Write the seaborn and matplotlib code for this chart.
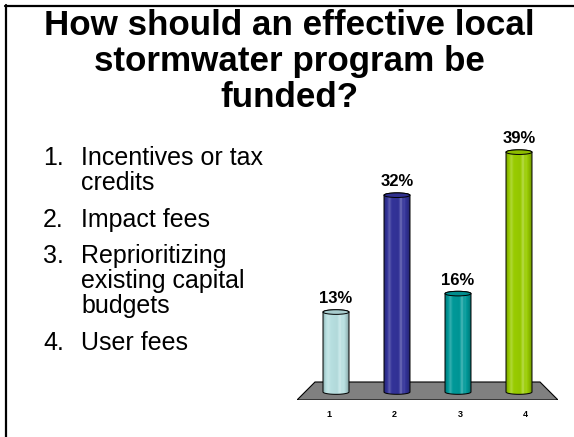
import numpy as np
import matplotlib
matplotlib.use("Agg")
import matplotlib.pyplot as plt
from matplotlib.patches import Ellipse, PathPatch, Polygon
from matplotlib.path import Path
from matplotlib.lines import Line2D
from matplotlib.colors import to_rgb
import seaborn as sns

# ---- data ----
title_lines = ["How should an effective local", "stormwater program be", "funded?"]
option_lines = [
    ["Incentives or tax", "credits"],
    ["Impact fees"],
    ["Reprioritizing", "existing capital", "budgets"],
    ["User fees"],
]
categories = ["1", "2", "3", "4"]
shares = [13, 32, 16, 39]
bar_colors = ["#B7DFE0", "#333399", "#009999", "#99CC00"]

sns.set_style("white")
plt.rcParams["font.family"] = ["Liberation Sans", "DejaVu Sans"]
plt.rcParams["text.color"] = "black"
plt.rcParams["xtick.color"] = "black"

W, H = 574, 437
fig = plt.figure(figsize=(W / 100, H / 100), dpi=100)
fig.patch.set_facecolor("white")


def fx(px):
    return px / W


def fy(py):
    return 1 - py / H


# slide frame (top and left rules)
fig.add_artist(Line2D([fx(5), fx(574)], [fy(6), fy(6)], color="black", lw=1.6))
fig.add_artist(Line2D([fx(6), fx(6)], [fy(5), fy(437)], color="black", lw=1.6))

# title
for i, line in enumerate(title_lines):
    fig.text(fx(289), fy(35 + 36 * i), line, ha="center", va="baseline",
             fontsize=25.2, fontweight="bold", color="black")

# numbered list of options
y = 165
for n, lines in enumerate(option_lines, start=1):
    fig.text(fx(43), fy(y), f"{n}.", ha="left", va="baseline", fontsize=18,
             color="black")
    for ln in lines:
        fig.text(fx(81), fy(y), ln, ha="left", va="baseline", fontsize=18,
                 color="black")
        y += 25
    y += 11.5

# ---- chart ----
px_per_unit_x = 61.0
px_per_pct = 6.15
left_px, right_px, top_px, bottom_px = 297, 558, 130, 400
base_px, first_center_px = 392, 336

ax = fig.add_axes([fx(left_px), fy(bottom_px), (right_px - left_px) / W,
                   (bottom_px - top_px) / H])
ax.set_facecolor("none")

bar_w = 26 / px_per_unit_x
sns.barplot(x=categories, y=shares, hue=categories, palette=bar_colors,
            width=bar_w, legend=False, saturation=1, ax=ax,
            edgecolor="none", linewidth=0, zorder=3)

ax.set_xlim((left_px - first_center_px) / px_per_unit_x,
            (right_px - first_center_px) / px_per_unit_x)
ax.set_ylim((base_px - bottom_px) / px_per_pct, (base_px - top_px) / px_per_pct)

# floor slab
front_y = (base_px - 400) / px_per_pct
back_y = (base_px - 382) / px_per_pct
cx0 = lambda p: (p - first_center_px) / px_per_unit_x
floor = Polygon([(cx0(297), front_y), (cx0(558), front_y),
                 (cx0(540), back_y), (cx0(315), back_y)], closed=True,
                facecolor="#808080", edgecolor="black", lw=0.8, zorder=1)
ax.add_patch(floor)

# cylinder shading profile across the bar width
stops_t = [0.0, 0.08, 0.2, 0.3, 0.55, 0.66, 0.72, 0.8, 0.92, 1.0]
stops_f = [0.78, 0.95, 1.10, 1.0, 0.97, 1.14, 1.02, 1.04, 0.88, 0.74]
tt = np.linspace(0, 1, 60)
prof = np.interp(tt, stops_t, stops_f)


def shade(rgb, f):
    rgb = np.array(rgb)
    if f >= 1:
        return rgb + (1 - rgb) * (f - 1) * 2.2
    return rgb * f


ell_h = 0.75  # ellipse height in data units
for patch, col, val in zip(ax.patches, bar_colors, shares):
    x0, w, h = patch.get_x(), patch.get_width(), patch.get_height()
    cx = x0 + w / 2
    rgb = to_rgb(col)

    # outline: left side, bottom half ellipse, right side, top rim
    th_b = np.linspace(np.pi, 2 * np.pi, 40)
    th_t = np.linspace(0, np.pi, 40)
    verts = [(x0, h), (x0, 0)]
    verts += [(cx + w / 2 * np.cos(t), ell_h / 2 * np.sin(t)) for t in th_b]
    verts += [(x0 + w, h)]
    verts += [(cx + w / 2 * np.cos(t), h + ell_h / 2 * np.sin(t)) for t in th_t]
    verts += [(x0, h)]
    codes = [Path.MOVETO] + [Path.LINETO] * (len(verts) - 2) + [Path.CLOSEPOLY]
    body = Path(verts, codes)

    clip = PathPatch(body, facecolor="none", edgecolor="none", zorder=4)
    ax.add_patch(clip)
    img = np.array([[shade(rgb, f) for f in prof]])
    img = np.clip(img, 0, 1)
    im = ax.imshow(img, extent=(x0, x0 + w, -ell_h / 2, h + ell_h / 2),
                   aspect="auto", interpolation="bilinear", zorder=4)
    im.set_clip_path(clip)
    ax.add_patch(PathPatch(body, facecolor="none", edgecolor="black",
                           lw=0.7, zorder=5))

    # top cap
    cap_col = np.clip(np.array(rgb) * 0.92, 0, 1)
    ax.add_patch(Ellipse((cx, h), w, ell_h, facecolor=cap_col,
                         edgecolor="black", lw=0.7, zorder=6))

    # value label
    ax.annotate(f"{val}%", (cx, h), xytext=(0, 6.5), textcoords="offset points",
                ha="center", va="baseline", fontsize=12, fontweight="bold",
                color="black", zorder=7, annotation_clip=False)

# tick labels sit along the front edge of the floor
front_scale = (558 - 297) / (540 - 315 + 558 - 297) * 2
mid = (len(categories) - 1) / 2
ax.set_xticks([mid + (i - mid) * front_scale for i in range(len(categories))])
ax.set_xticklabels(categories, fontsize=6.5, fontweight="bold", color="black")
ax.tick_params(axis="x", length=0, pad=7.5)
ax.set_yticks([])
ax.set_xlabel("")
ax.set_ylabel("")
for s in ax.spines.values():
    s.set_visible(False)

fig.savefig("out.png", dpi=100, facecolor="white")
